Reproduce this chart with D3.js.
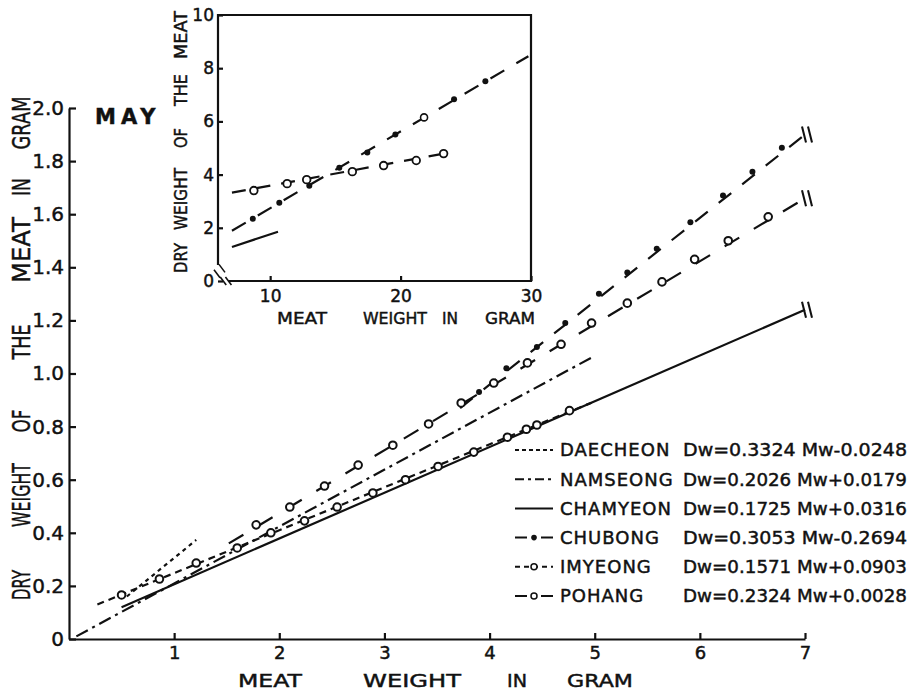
<!DOCTYPE html>
<html>
<head>
<meta charset="utf-8">
<script src="https://cdn.jsdelivr.net/npm/d3@7"></script>
<style>
  body { margin: 0; background: #fff; }
  text { font-family: "DejaVu Sans", sans-serif; fill: #111; stroke: #111; stroke-width: 0.45px; }
</style>
</head>
<body>
<svg id="chart" width="922" height="693"></svg>
<script>
// ---- data ----
const seriesNames = ["DAECHEON", "NAMSEONG", "CHAMYEON", "CHUBONG", "IMYEONG", "POHANG"];
const equations = [
  "Dw=0.3324 Mw-0.0248",
  "Dw=0.2026 Mw+0.0179",
  "Dw=0.1725 Mw+0.0316",
  "Dw=0.3053 Mw-0.2694",
  "Dw=0.1571 Mw+0.0903",
  "Dw=0.2324 Mw+0.0028"
];

// main plot, [meat weight, dry weight]
const daecheonLine = [[0.55, 0.16], [1.21, 0.373]];
const namseongLine = [[0.07, 0.01], [4.97, 1.06]];
const chamyeonLine = [[0.5, 0.12], [7.0, 1.24]];
const chubongLine = [[3.72, 0.87], [7.0, 1.9]];
const chubongPoints = [[3.9, 0.93], [4.16, 1.02], [4.45, 1.1], [4.72, 1.19], [5.04, 1.3], [5.31, 1.38],
  [5.59, 1.47], [5.91, 1.57], [6.22, 1.67], [6.5, 1.76], [6.78, 1.85]];
const imyeongLine = [[0.27, 0.13], [4.97, 0.89]];
const imyeongPoints = [[0.5, 0.166], [0.86, 0.226], [1.21, 0.286], [1.6, 0.343], [1.92, 0.4], [2.24, 0.445],
  [2.55, 0.497], [2.89, 0.55], [3.2, 0.6], [3.51, 0.65], [3.85, 0.704], [4.17, 0.76], [4.35, 0.79],
  [4.45, 0.806], [4.76, 0.86]];
const pohangLine = [[1.52, 0.36], [7.0, 1.66]];
const pohangPoints = [[1.78, 0.43], [2.1, 0.497], [2.43, 0.576], [2.75, 0.655], [3.08, 0.73], [3.42, 0.81],
  [3.73, 0.889], [4.04, 0.964], [4.36, 1.04], [4.68, 1.11], [4.97, 1.19], [5.31, 1.265], [5.64, 1.345],
  [5.95, 1.43], [6.27, 1.5], [6.65, 1.59]];

// inset
const insetSolidLine = [[7.07, 1.28], [10.6, 1.85]];
const insetOpenLine = [[7.07, 3.32], [23.3, 4.79]];
const insetOpenPoints = [[8.75, 3.4], [11.3, 3.66], [12.8, 3.81], [16.3, 4.11], [18.7, 4.34], [21.2, 4.53], [23.3, 4.79]];
const insetDotLine = [[7.07, 1.89], [29.8, 8.45]];
const insetDotPoints = [[8.67, 2.34], [10.7, 2.94], [13.0, 3.58], [15.3, 4.26], [17.45, 4.83], [19.6, 5.51],
  [21.8, 6.15], [24.1, 6.83], [26.5, 7.51]];

const mainXTicks = [1, 2, 3, 4, 5, 6, 7];
const mainYTicks = [0, 0.2, 0.4, 0.6, 0.8, 1.0, 1.2, 1.4, 1.6, 1.8, 2.0];
const insetXTicks = [10, 20, 30];
const insetYTicks = [0, 2, 4, 6, 8, 10];

// ---- drawing ----
const svg = d3.select("#chart");
const ink = "#111";

const x = d3.scaleLinear().domain([0, 7]).range([69, 805]);
const y = d3.scaleLinear().domain([0, 2]).range([639, 108]);

function styleAxis(g, size) {
  g.selectAll("path, line").attr("stroke", ink).attr("stroke-width", 2.2);
  g.selectAll("text").style("font-size", size + "px").attr("fill", ink);
}

svg.append("g")
  .attr("transform", `translate(0,${y(0)})`)
  .call(d3.axisBottom(x).tickValues(mainXTicks).tickSize(-6).tickSizeOuter(0).tickPadding(7)
    .tickFormat(d3.format("d")))
  .call(g => styleAxis(g, 18));

svg.append("g")
  .attr("transform", `translate(${x(0)},0)`)
  .call(d3.axisLeft(y).tickValues(mainYTicks).tickSize(-7).tickSizeOuter(0).tickPadding(5)
    .tickFormat(d => d === 0 ? "0" : d3.format(".1f")(d)))
  .call(g => styleAxis(g, 20));

// axis titles (words spread out as in the original lettering)
const yTitleWords = [["DRY", 585, 30], ["WEIGHT", 495, 64], ["OF", 421, 23], ["THE", 342, 35],
  ["MEAT", 250, 66], ["IN", 187, 18], ["GRAM", 123, 53]];
yTitleWords.forEach(([w, cy, len]) => {
  svg.append("text")
    .attr("transform", `translate(21,${cy}) rotate(-90)`)
    .attr("text-anchor", "middle").attr("dy", "0.36em")
    .attr("textLength", len).attr("lengthAdjust", "spacingAndGlyphs")
    .style("font-size", "25px").text(w);
});

const xTitleWords = [["MEAT", 270, 64], ["WEIGHT", 412, 98], ["IN", 517, 20], ["GRAM", 600, 66]];
xTitleWords.forEach(([w, cx, len]) => {
  svg.append("text")
    .attr("x", cx).attr("y", 681).attr("dy", "0.36em")
    .attr("text-anchor", "middle")
    .attr("textLength", len).attr("lengthAdjust", "spacingAndGlyphs")
    .style("font-size", "18px").text(w);
});

svg.append("text")
  .attr("x", 95).attr("y", 124)
  .style("font-size", "21px").style("font-weight", "bold").style("letter-spacing", "5px")
  .text("MAY");

const line = d3.line().x(d => x(d[0])).y(d => y(d[1]));

const series = [
  { line: daecheonLine, dash: "4,4", points: [], marker: null },
  { line: namseongLine, dash: "13,5,3,5", points: [], marker: null },
  { line: chamyeonLine, dash: null, points: [], marker: null },
  { line: chubongLine, dash: "16,14", points: chubongPoints, marker: "dot" },
  { line: imyeongLine, dash: "7,5", points: imyeongPoints, marker: "open" },
  { line: pohangLine, dash: "17,17", points: pohangPoints, marker: "open" }
];

series.forEach(s => {
  svg.append("path")
    .datum(s.line)
    .attr("fill", "none")
    .attr("stroke", ink)
    .attr("stroke-width", 2.2)
    .attr("stroke-dasharray", s.dash)
    .attr("d", line);
  svg.selectAll(null)
    .data(s.points)
    .join("circle")
    .attr("cx", d => x(d[0]))
    .attr("cy", d => y(d[1]))
    .attr("r", s.marker === "dot" ? 3 : 3.8)
    .attr("fill", s.marker === "dot" ? ink : "#fff")
    .attr("stroke", ink)
    .attr("stroke-width", s.marker === "dot" ? 0 : 2);
});

// break marks on the lines that run off at 7
[chamyeonLine, chubongLine, pohangLine].forEach(l => {
  const e = l[l.length - 1];
  const ex = x(e[0]), ey = y(e[1]);
  [-1, 5].forEach(off => {
    svg.append("line")
      .attr("x1", ex + off - 2).attr("y1", ey - 8)
      .attr("x2", ex + off + 2).attr("y2", ey + 8)
      .attr("stroke", ink).attr("stroke-width", 2);
  });
});

// legend
const legendY = d3.scaleLinear().domain([0, 5]).range([450, 596]);
series.forEach((s, i) => {
  const cy = legendY(i);
  const g = svg.append("g");
  g.append("line")
    .attr("x1", 515).attr("x2", 553).attr("y1", cy).attr("y2", cy)
    .attr("stroke", ink).attr("stroke-width", 2)
    .attr("stroke-dasharray", i === 0 ? "4,3" : i === 1 ? "9,4,3,4" : i === 4 ? "5,4" : i === 2 ? null : "12,14");
  if (s.marker) {
    g.append("circle")
      .attr("cx", 534).attr("cy", cy)
      .attr("r", s.marker === "dot" ? 2.8 : 3)
      .attr("fill", s.marker === "dot" ? ink : "#fff")
      .attr("stroke", ink).attr("stroke-width", s.marker === "dot" ? 0 : 1.5);
  }
  g.append("text")
    .attr("x", 560).attr("y", cy).attr("dy", "0.36em")
    .style("font-size", "18px").style("letter-spacing", "1px")
    .text(seriesNames[i]);
  g.append("text")
    .attr("x", 683).attr("y", cy).attr("dy", "0.36em")
    .attr("textLength", 224).attr("lengthAdjust", "spacingAndGlyphs")
    .style("font-size", "18px")
    .text(equations[i]);
});

// ---- inset ----
const ix = d3.scaleLinear().domain([6, 30]).range([218, 531]);
const iy = d3.scaleLinear().domain([0, 10]).range([281, 15]);
const inset = svg.append("g");

inset.append("g")
  .attr("transform", `translate(0,${iy(0)})`)
  .call(d3.axisBottom(ix).tickValues(insetXTicks).tickSize(-5).tickSizeOuter(0).tickPadding(9)
    .tickFormat(d3.format("d")))
  .call(g => styleAxis(g, 17));

inset.append("g")
  .attr("transform", `translate(${ix(6)},0)`)
  .call(d3.axisLeft(iy).tickValues(insetYTicks).tickSize(-5).tickSizeOuter(0).tickPadding(4)
    .tickFormat(d3.format("d")))
  .call(g => styleAxis(g, 17));

// hide the axis domains near the origin to leave room for break marks
inset.selectAll(".domain").remove();
inset.append("path")
  .attr("d", `M${ix(6)},${iy(0.6)}V${iy(10)}H${ix(30)}V${iy(0)}H${ix(6.8)}`)
  .attr("fill", "none").attr("stroke", ink).attr("stroke-width", 2.2);
// break marks
[[ix(6) - 4, iy(0.35)], [ix(6) + 1, iy(0.55)]].forEach(([bx, by]) => {
  inset.append("line").attr("x1", bx).attr("y1", by - 2).attr("x2", bx + 6).attr("y2", by + 6)
    .attr("stroke", ink).attr("stroke-width", 1.6);
});
[[ix(6.4), iy(0)], [ix(6.8), iy(0)]].forEach(([bx, by]) => {
  inset.append("line").attr("x1", bx - 3).attr("y1", by - 4).attr("x2", bx + 3).attr("y2", by + 4)
    .attr("stroke", ink).attr("stroke-width", 1.6);
});

const iline = d3.line().x(d => ix(d[0])).y(d => iy(d[1]));
inset.append("path").datum(insetSolidLine).attr("d", iline)
  .attr("fill", "none").attr("stroke", ink).attr("stroke-width", 2.2);
inset.append("path").datum(insetOpenLine).attr("d", iline)
  .attr("fill", "none").attr("stroke", ink).attr("stroke-width", 2.2).attr("stroke-dasharray", "14,11");
inset.append("path").datum(insetDotLine).attr("d", iline)
  .attr("fill", "none").attr("stroke", ink).attr("stroke-width", 2.2).attr("stroke-dasharray", "16,14");

inset.selectAll(".dot").data(insetDotPoints).join("circle")
  .attr("cx", d => ix(d[0])).attr("cy", d => iy(d[1]))
  .attr("r", (d, i) => i === 6 ? 3.5 : 3)
  .attr("fill", (d, i) => i === 6 ? "#fff" : ink)
  .attr("stroke", ink).attr("stroke-width", (d, i) => i === 6 ? 1.6 : 0);
inset.selectAll(".open").data(insetOpenPoints).join("circle")
  .attr("cx", d => ix(d[0])).attr("cy", d => iy(d[1]))
  .attr("r", 3.8).attr("fill", "#fff").attr("stroke", ink).attr("stroke-width", 1.8);

const insetYWords = [["MEAT", 35, 48], ["THE", 90, 32], ["OF", 138, 20], ["WEIGHT", 199, 62], ["DRY", 258, 30]];
insetYWords.forEach(([w, cy, len]) => {
  inset.append("text")
    .attr("transform", `translate(181,${cy}) rotate(-90)`)
    .attr("text-anchor", "middle").attr("dy", "0.36em")
    .attr("textLength", len).attr("lengthAdjust", "spacingAndGlyphs")
    .style("font-size", "17px").text(w);
});
const insetXWords = [["MEAT", 302, 50], ["WEIGHT", 395, 64], ["IN", 450, 16], ["GRAM", 510, 50]];
insetXWords.forEach(([w, cx, len]) => {
  inset.append("text")
    .attr("x", cx).attr("y", 318).attr("dy", "0.36em")
    .attr("text-anchor", "middle")
    .attr("textLength", len).attr("lengthAdjust", "spacingAndGlyphs")
    .style("font-size", "16px").text(w);
});
</script>
</body>
</html>
